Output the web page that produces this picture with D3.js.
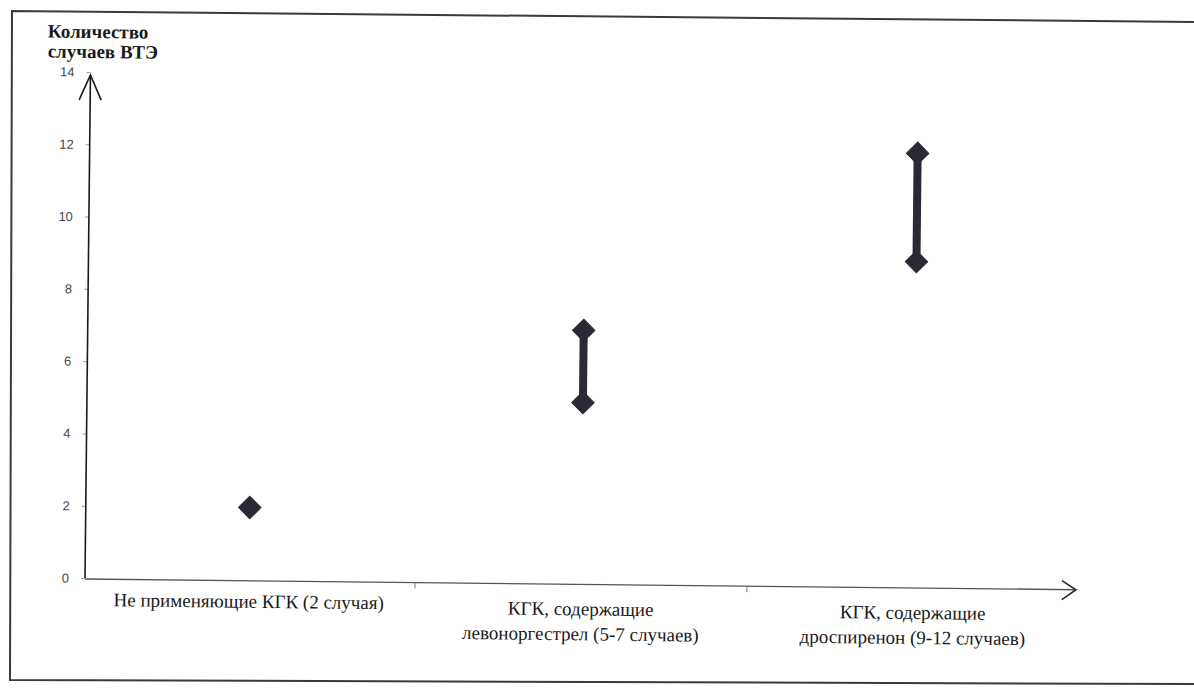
<!DOCTYPE html>
<html>
<head>
<meta charset="utf-8">
<script src="https://cdn.jsdelivr.net/npm/d3@7"></script>
<style>
  body { margin: 0; background: #ffffff; }
  svg { display: block; }
</style>
</head>
<body>
<div id="chart"></div>
<script>
/* Data */
const categories = [
  ["Не применяющие КГК (2 случая)"],
  ["КГК, содержащие", "левоноргестрел (5-7 случаев)"],
  ["КГК, содержащие", "дроспиренон (9-12 случаев)"]
];
const lowValues = [2, 5, 9];
const highValues = [2, 7, 12];
const yTicks = [0, 2, 4, 6, 8, 10, 12, 14];
const yTitle = ["Количество", "случаев ВТЭ"];

const width = 1194;
const height = 691;

const svg = d3.select("#chart")
  .append("svg")
  .attr("width", width)
  .attr("height", height);

/* outer frame of the scanned figure */
svg.append("path")
  .attr("d", "M1194,22 L12,11 L10,680 L1194,684")
  .attr("fill", "none")
  .attr("stroke", "#3a3a3a")
  .attr("stroke-width", 2);

const axisX = 85;

const x = d3.scaleBand()
  .domain(d3.range(categories.length))
  .range([axisX - 2, 1079]);

const y = d3.scaleLinear()
  .domain([0, 14])
  .range([578, 72]);

/* the scan is turned a little clockwise, so the whole chart is too */
const root = svg.append("g")
  .attr("transform", `rotate(0.62, ${axisX}, ${y(0)})`);

const series = categories.map((c, i) => ({
  i: i,
  low: lowValues[i],
  high: highValues[i]
}));

const cx = i => x(i) + x.bandwidth() / 2;

/* y axis: tick labels + small ticks */
const yAxis = root.append("g")
  .attr("transform", `translate(${axisX},0)`)
  .call(d3.axisLeft(y).tickValues(yTicks).tickSize(4).tickPadding(12));

yAxis.select(".domain").remove();
yAxis.selectAll(".tick line").attr("stroke", "#9a9a9a");
yAxis.selectAll(".tick text")
  .attr("font-family", "Liberation Sans, sans-serif")
  .attr("font-size", 13)
  .attr("fill", "#4a4a4a");

/* axis lines with open arrow heads */
root.append("line")
  .attr("x1", axisX).attr("y1", y(0))
  .attr("x2", axisX).attr("y2", y(14) + 4)
  .attr("stroke", "#1a1a1a")
  .attr("stroke-width", 1.6);

root.append("path")
  .attr("d", `M${axisX - 11},${y(14) + 28} L${axisX},${y(14) + 3} L${axisX + 11},${y(14) + 28}`)
  .attr("fill", "none")
  .attr("stroke", "#1a1a1a")
  .attr("stroke-width", 1.6);

const xEnd = x.range()[1] - 3;

root.append("line")
  .attr("x1", axisX).attr("y1", y(0) + 1)
  .attr("x2", xEnd).attr("y2", y(0) + 1)
  .attr("stroke", "#555555")
  .attr("stroke-width", 1.4);

root.append("path")
  .attr("d", `M${xEnd - 14},${y(0) - 8} L${xEnd},${y(0) + 1} L${xEnd - 14},${y(0) + 11}`)
  .attr("fill", "none")
  .attr("stroke", "#2a2a2a")
  .attr("stroke-width", 1.6);

/* category separators on the x axis */
root.append("g")
  .selectAll("line")
  .data(d3.range(1, categories.length))
  .join("line")
    .attr("x1", d => x(d))
    .attr("x2", d => x(d))
    .attr("y1", y(0) + 1)
    .attr("y2", y(0) + 7)
    .attr("stroke", "#777777");

/* y title */
root.append("text")
  .attr("x", 42)
  .attr("y", 38)
  .attr("font-family", "Liberation Serif, serif")
  .attr("font-size", 19)
  .attr("font-weight", "bold")
  .attr("fill", "#1a1a1a")
  .selectAll("tspan")
  .data(yTitle)
  .join("tspan")
    .attr("x", 42)
    .attr("dy", (d, i) => i === 0 ? 0 : 20)
    .text(d => d);

/* category labels */
const catLabels = root.append("g")
  .attr("font-family", "Liberation Serif, serif")
  .attr("font-size", 19)
  .attr("fill", "#1a1a1a")
  .attr("text-anchor", "middle");

catLabels.selectAll("text")
  .data(categories)
  .join("text")
    .attr("x", (d, i) => cx(i))
    .attr("y", d => d.length > 1 ? 610 : 606)
    .selectAll("tspan")
    .data((d, i) => d.map(t => ({ t: t, i: i })))
    .join("tspan")
      .attr("x", d => cx(d.i))
      .attr("dy", (d, k) => k === 0 ? 0 : 25)
      .text(d => d.t);

/* range bars */
const marks = root.append("g");

marks.selectAll("line")
  .data(series.filter(d => d.high > d.low))
  .join("line")
    .attr("x1", d => cx(d.i))
    .attr("x2", d => cx(d.i))
    .attr("y1", d => y(d.low))
    .attr("y2", d => y(d.high))
    .attr("stroke", "#2a2a35")
    .attr("stroke-width", 8);

/* diamonds at the low and high ends */
const points = [];
series.forEach(d => {
  points.push({ i: d.i, v: d.low });
  if (d.high !== d.low) points.push({ i: d.i, v: d.high });
});

const diamond = d3.symbol().type(d3.symbolDiamond2).size(320);

marks.selectAll("path")
  .data(points)
  .join("path")
    .attr("d", diamond)
    .attr("transform", d => `translate(${cx(d.i)},${y(d.v)})`)
    .attr("fill", "#2a2a35")
    .attr("stroke", "#2a2a35")
    .attr("stroke-width", 1);
</script>
</body>
</html>
